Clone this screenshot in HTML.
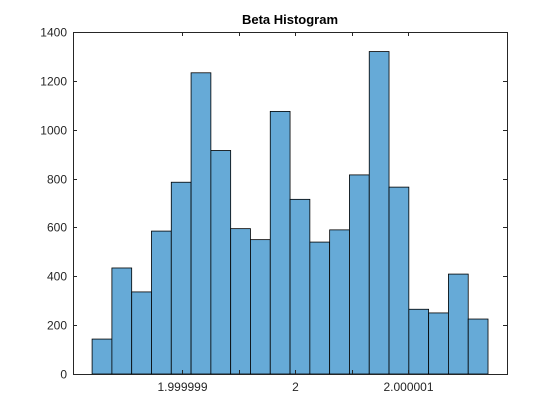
<!DOCTYPE html>
<html><head><meta charset="utf-8"><style>
body{margin:0;background:#fff;}
svg{display:block;font-family:"Liberation Sans",Arial,sans-serif;}
</style></head><body>
<svg id="chart" width="560" height="420" viewBox="0 0 560 420">
<rect x="0" y="0" width="560" height="420" fill="#fff"/>
<g id="bars"></g>
<g id="axes"></g>
<text x="290" y="24" text-anchor="middle" font-size="13" font-weight="bold" fill="#000">Beta Histogram</text>
</svg>
<script>
// bin counts (bin edges in micro-units offset from 2)
const counts = [143,434,336,585,785,1233,915,595,550,1075,715,540,590,815,1320,765,265,250,409,225];
const binStart = -1.796;
const binWidth = 0.1752;
const yTicks = [0,200,400,600,800,1000,1200,1400];
const xTicks = [-1,-0.5,0,0.5,1];
const xTickLabels = ["1.999999","","2","","2.000001"];

const L=73,R=507,T=32,B=374;
const xMin=-1.965,xMax=1.876,yMax=1400;
const sx=v=>L+(v-xMin)/(xMax-xMin)*(R-L);
const sy=v=>B-v/yMax*(B-T);
const NS="http://www.w3.org/2000/svg";
const bars=document.getElementById('bars');
const axes=document.getElementById('axes');
function mk(tag,attrs,parent){const e=document.createElementNS(NS,tag);for(const k in attrs)e.setAttribute(k,attrs[k]);parent.appendChild(e);return e;}
counts.forEach((c,i)=>{
  const x0=sx(binStart+i*binWidth),x1=sx(binStart+(i+1)*binWidth);
  const r=mk('rect',{x:x0,y:sy(c),width:x1-x0,height:sy(0)-sy(c),fill:'#66aad7',stroke:'#000','stroke-width':0.8},bars);
  
  
});
const box=mk('rect',{x:L+0.5,y:T+0.5,width:R-L,height:B-T,fill:'none',stroke:'#262626','stroke-width':1},axes);


yTicks.forEach(v=>{
  const y=Math.round(sy(v))+0.5;
  mk('line',{x1:L,x2:L+4,y1:y,y2:y,stroke:'#262626'},axes);
  mk('line',{x1:R,x2:R-4,y1:y,y2:y,stroke:'#262626'},axes);
  const t=mk('text',{x:L-6,y:y+4,'text-anchor':'end','font-size':12,fill:'#262626'},axes);
  t.textContent=v;
  
  
});
xTicks.forEach((v,i)=>{
  const x=Math.round(sx(v))+0.5;
  mk('line',{x1:x,x2:x,y1:B,y2:B-4,stroke:'#262626'},axes);
  mk('line',{x1:x,x2:x,y1:T,y2:T+4,stroke:'#262626'},axes);
  if(xTickLabels[i]){
    const t=mk('text',{x:x,y:B+17,'text-anchor':'middle','font-size':12,fill:'#262626'},axes);
    t.textContent=xTickLabels[i];
    
    
  }
});
</script>
</body></html>
